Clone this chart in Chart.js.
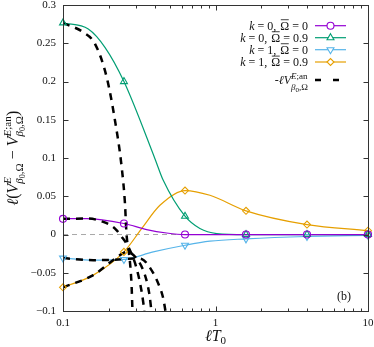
<!DOCTYPE html>
<html>
<head>
<meta charset="utf-8">
<script src="https://cdn.jsdelivr.net/npm/chart.js@4.4.1/dist/chart.umd.min.js"></script>
<style>
  html, body { margin: 0; padding: 0; background: #fff; }
  #wrap { width: 374px; height: 347px; }
</style>
</head>
<body>
<div id="wrap"><canvas id="c" width="374" height="347"></canvas></div>
<script>
// marker positions on the lT0 axis
const markerT = [0.1, 0.251, 0.631, 1.585, 3.981, 10];
const k0w0Y = [0.0205, 0.0144, 0, 0, 0, 0];
const k0w9Y = [0.2767, 0.2, 0.0239, 0, 0, 0];
const k1w0Y = [-0.0308, -0.0326, -0.014, -0.0057, -0.0026, -0.001];
const k1w9Y = [-0.069, -0.0227, 0.0575, 0.031, 0.013, 0.005];

// solid curves
const k0w0CurveT = [0.1, 0.143, 0.251, 0.3535, 0.4781, 0.631, 1.585, 3.981, 10];
const k0w0CurveY = [0.0205, 0.0209, 0.0144, 0.0065, 0.002, 0, 0, 0, 0];
const k0w9CurveT = [0.1, 0.1465, 0.1884, 0.251, 0.4007, 0.4543, 0.631, 0.79, 1.017, 1.585, 3.981, 10];
const k0w9CurveY = [0.2767, 0.2688, 0.2448, 0.2, 0.0992, 0.0709, 0.0239, 0.0078, 0.0013, 0, 0, 0];
const k1w0CurveT = [0.1, 0.158, 0.251, 0.3906, 0.631, 0.919, 1.585, 3.981, 10];
const k1w0CurveY = [-0.0308, -0.0335, -0.0326, -0.0227, -0.014, -0.0087, -0.0057, -0.0026, -0.001];
const k1w9CurveT = [0.1, 0.158, 0.251, 0.328, 0.4321, 0.631, 0.919, 1.585, 3.981, 10];
const k1w9CurveY = [-0.069, -0.0531, -0.0227, 0.0078, 0.0382, 0.0575, 0.0513, 0.031, 0.013, 0.005];

// -lV^{E;an} dashed curves
const anK0W0T = [0.1, 0.143, 0.1837, 0.2192, 0.2425, 0.268, 0.304, 0.328, 0.342];
const anK0W0Y = [0.0205, 0.0209, 0.0165, 0.0078, -0.003, -0.016, -0.0444, -0.0749, -0.1];
const anK0W9T = [0.1, 0.1359, 0.1621, 0.1934, 0.2192, 0.2425, 0.2549, 0.2607, 0.2748, 0.2819, 0.2854];
const anK0W9Y = [0.2767, 0.2644, 0.2493, 0.2057, 0.1492, 0.0882, 0.0405, 0.0017, -0.0358, -0.0684, -0.1];
const anK1W0T = [0.1, 0.158, 0.2192, 0.304, 0.3294, 0.3622, 0.4213, 0.4543, 0.4697];
const anK1W0Y = [-0.0308, -0.0335, -0.033, -0.0313, -0.0322, -0.0401, -0.064, -0.0835, -0.1];
const anK1W9T = [0.1, 0.158, 0.2126, 0.2363, 0.2616, 0.3, 0.3447, 0.3677, 0.3802];
const anK1W9Y = [-0.069, -0.0531, -0.0335, -0.027, -0.0227, -0.03, -0.0531, -0.077, -0.1];

const zeroT = [0.1, 10];
const zeroY = [0, 0];

const yTicks = [-0.1, -0.05, 0, 0.05, 0.1, 0.15, 0.2, 0.25, 0.3];
const xTicks = [0.1, 1, 10];

const PURPLE = '#9400d3', GREEN = '#009e73', BLUE = '#56b4e9', ORANGE = '#e69f00';
const SERIF = '"Liberation Serif", "DejaVu Serif", serif';

const pts = (xs, ys) => xs.map((x, i) => ({ x: x, y: ys[i] }));

function curve(xs, ys, color) {
  return { data: pts(xs, ys), showLine: true, borderColor: color, borderWidth: 1.2,
    pointRadius: 0, cubicInterpolationMode: 'monotone', order: 2 };
}
function dashed(xs, ys) {
  return { data: pts(xs, ys), showLine: true, borderColor: '#000', borderWidth: 2.5,
    borderDash: [7, 6], pointRadius: 0, cubicInterpolationMode: 'monotone', clip: 0, order: 1 };
}
function markers(ys, color, style, rot, r) {
  return { data: pts(markerT, ys), showLine: false, borderColor: color, backgroundColor: 'rgba(0,0,0,0)',
    pointStyle: style, rotation: rot, pointRadius: r, borderWidth: 1.1, clip: false, order: 0 };
}

// text with italics, scripts and overlines
function richWidth(ctx, segs) {
  let w = 0;
  segs.forEach(s => {
    if (s.g) { w += s.g; return; }
    if (s.stack) { w += Math.max(richWidth(ctx, s.stack[0]), richWidth(ctx, s.stack[1])); return; }
    ctx.font = (s.it ? 'italic ' : '') + s.s + 'px ' + SERIF;
    w += ctx.measureText(s.t).width;
  });
  return w;
}
function drawRich(ctx, x, y, segs) {
  segs.forEach(s => {
    if (s.g) { x += s.g; return; }
    if (s.stack) {
      drawRich(ctx, x, y + s.up, s.stack[0]);
      drawRich(ctx, x, y + s.down, s.stack[1]);
      x += Math.max(richWidth(ctx, s.stack[0]), richWidth(ctx, s.stack[1]));
      return;
    }
    ctx.font = (s.it ? 'italic ' : '') + s.s + 'px ' + SERIF;
    ctx.fillText(s.t, x, y + (s.dy || 0));
    const w = ctx.measureText(s.t).width;
    if (s.over) {
      ctx.fillRect(x + 0.5, y - s.s * 0.86, w - 1, 0.8);
    }
    x += w;
  });
}

const legendRows = [
  { color: PURPLE, style: 'circle', rot: 0, r: 3.5, k: '0', w: '0' },
  { color: GREEN, style: 'triangle', rot: 0, r: 4, k: '0', w: '0.9' },
  { color: BLUE, style: 'triangle', rot: 180, r: 4, k: '1', w: '0' },
  { color: ORANGE, style: 'rectRot', rot: 0, r: 3.5, k: '1', w: '0.9' }
];

const decorPlugin = {
  id: 'decor',
  afterDraw(chart) {
    const ctx = chart.ctx;
    const a = chart.chartArea;
    const xs = chart.scales.x, ys = chart.scales.y;
    ctx.save();
    ctx.strokeStyle = '#333';
    ctx.lineWidth = 1;
    const L = Math.round(a.left) + 0.5, R = Math.round(a.right) + 0.5;
    const T = Math.round(a.top) + 0.5, B = Math.round(a.bottom) + 0.5;
    ctx.strokeRect(L, T, R - L, B - T);
    ctx.beginPath();
    yTicks.forEach(v => {
      const p = Math.round(ys.getPixelForValue(v)) + 0.5;
      ctx.moveTo(L, p); ctx.lineTo(L + 5, p);
      ctx.moveTo(R, p); ctx.lineTo(R - 5, p);
    });
    [0.1, 1, 10].forEach(dec => {
      for (let m = 1; m <= 9; m++) {
        const v = dec * m;
        if (v > 10.001) break;
        const p = Math.round(xs.getPixelForValue(v)) + 0.5;
        const len = m === 1 ? 5 : 3;
        ctx.moveTo(p, B); ctx.lineTo(p, B - len);
        ctx.moveTo(p, T); ctx.lineTo(p, T + len);
      }
    });
    ctx.stroke();

    ctx.textBaseline = 'alphabetic';
    // legend
    const right = 308, lx0 = 315, lx1 = 346;
    legendRows.forEach((row, i) => {
      const cy = [25.7, 37.7, 49.7, 62][i];
      const segs = [{ t: 'k', it: true, s: 12 }, { g: 3 }, { t: '=', s: 12 }, { g: 3 }, { t: row.k + ',', s: 12 }, { g: 4 },
        { t: 'Ω', s: 12, over: true }, { g: 3 }, { t: '=', s: 12 }, { g: 3 }, { t: row.w, s: 12 }];
      const w = richWidth(ctx, segs);
      ctx.fillStyle = '#111';
      drawRich(ctx, right - w, cy + 4, segs);
      ctx.strokeStyle = row.color;
      ctx.lineWidth = 1.2;
      ctx.beginPath(); ctx.moveTo(lx0, cy); ctx.lineTo(lx1, cy); ctx.stroke();
      ctx.lineWidth = 1.1;
      ctx.fillStyle = '#fff';
      Chart.helpers.drawPoint(ctx, { pointStyle: row.style, rotation: row.rot, radius: row.r, borderWidth: 1.1 }, (lx0 + lx1) / 2, cy);
    });
    const anSegs = [{ t: '-', s: 12 }, { t: 'ℓ', it: true, s: 12 }, { t: 'V', it: true, s: 12 },
      { stack: [[{ t: 'E', it: true, s: 9 }, { t: ';an', s: 9 }],
                [{ t: 'β', it: true, s: 9 }, { t: '0', s: 7, dy: 2 }, { t: ',Ω', s: 9 }]], up: -5.5, down: 5.5 }];
    const aw = richWidth(ctx, anSegs);
    ctx.fillStyle = '#111';
    drawRich(ctx, right - aw, 84, anSegs);
    ctx.strokeStyle = '#000';
    ctx.lineWidth = 2.5;
    ctx.setLineDash([6, 12]);
    ctx.beginPath(); ctx.moveTo(lx0, 80); ctx.lineTo(lx1, 80); ctx.stroke();
    ctx.setLineDash([]);

    // panel tag
    ctx.font = '12px ' + SERIF;
    ctx.textAlign = 'center';
    ctx.fillText('(b)', 344, 300);

    // x axis title
    ctx.textAlign = 'left';
    const xt = [{ t: 'ℓT', it: true, s: 16 }, { t: '0', s: 11, dy: 3 }];
    drawRich(ctx, (a.left + a.right) / 2 - richWidth(ctx, xt) / 2, 341, xt);

    // y axis title
    const sub = [{ t: 'β', it: true, s: 11 }, { t: '0', s: 8, dy: 2 }, { t: ',Ω', s: 11 }];
    const yt = [{ t: 'ℓ', it: true, s: 16 }, { t: '(', s: 16 }, { t: 'V', it: true, s: 16 },
      { stack: [[{ t: 'E', it: true, s: 11 }], sub], up: -7, down: 5 },
      { g: 4 }, { t: '−', s: 16 }, { g: 4 }, { t: 'V', it: true, s: 16 },
      { stack: [[{ t: 'E', it: true, s: 11 }, { t: ';an', s: 11 }], sub], up: -7, down: 5 },
      { t: ')', s: 16 }];
    const yw = richWidth(ctx, yt);
    ctx.translate(18, (a.top + a.bottom) / 2);
    ctx.rotate(-Math.PI / 2);
    drawRich(ctx, -yw / 2, 0, yt);
    ctx.restore();
  }
};

new Chart(document.getElementById('c'), {
  type: 'scatter',
  data: {
    datasets: [
      { data: pts(zeroT, zeroY), showLine: true, borderColor: '#a8a8a8', borderWidth: 1,
        borderDash: [5, 4], pointRadius: 0, order: 3 },
      curve(k0w0CurveT, k0w0CurveY, PURPLE),
      curve(k0w9CurveT, k0w9CurveY, GREEN),
      curve(k1w0CurveT, k1w0CurveY, BLUE),
      curve(k1w9CurveT, k1w9CurveY, ORANGE),
      dashed(anK0W0T, anK0W0Y),
      dashed(anK0W9T, anK0W9Y),
      dashed(anK1W0T, anK1W0Y),
      dashed(anK1W9T, anK1W9Y),
      markers(k0w0Y, PURPLE, 'circle', 0, 3.5),
      markers(k0w9Y, GREEN, 'triangle', 0, 4),
      markers(k1w0Y, BLUE, 'triangle', 180, 4),
      markers(k1w9Y, ORANGE, 'rectRot', 0, 3.5)
    ]
  },
  options: {
    responsive: false,
    animation: false,
    devicePixelRatio: 1,
    layout: { padding: { top: 5, right: 6, left: 0, bottom: 0 } },
    plugins: { legend: { display: false }, tooltip: { enabled: false } },
    scales: {
      x: {
        type: 'logarithmic', min: 0.1, max: 10,
        afterBuildTicks: s => { s.ticks = xTicks.map(v => ({ value: v })); },
        afterFit: s => { s.height = 36; s.paddingLeft = 0; s.paddingRight = 0; },
        grid: { display: false, drawTicks: false },
        border: { display: false },
        ticks: { padding: 6, color: '#111', maxRotation: 0,
          font: { family: SERIF, size: 11 },
          callback: v => String(v) }
      },
      y: {
        min: -0.1, max: 0.3,
        afterBuildTicks: s => { s.ticks = yTicks.map(v => ({ value: v })); },
        afterFit: s => { s.width = 63; s.paddingTop = 0; s.paddingBottom = 0; },
        grid: { display: false, drawTicks: false },
        border: { display: false },
        ticks: { padding: 7, color: '#111',
          font: { family: SERIF, size: 11 },
          callback: v => { const r = Math.round(v * 100) / 100; return r < 0 ? '−' + Math.abs(r) : String(r); } }
      }
    }
  },
  plugins: [decorPlugin]
});
</script>
</body>
</html>
